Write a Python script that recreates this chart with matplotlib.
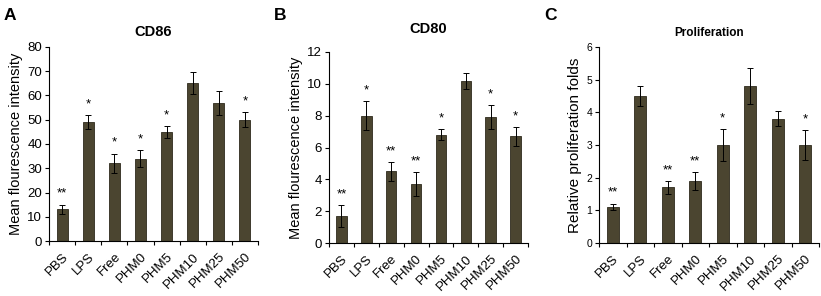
import matplotlib
matplotlib.use("Agg")
import matplotlib.pyplot as plt
import numpy as np

plt.rcParams["font.family"] = ["Liberation Sans", "DejaVu Sans"]

groups = ["PBS", "LPS", "Free", "PHM0", "PHM5", "PHM10", "PHM25", "PHM50"]

cd86 = [13, 49, 32, 34, 45, 65, 57, 50]
cd86_err = [2, 3, 4, 3.5, 2.5, 4.5, 5, 3]
cd86_sig = ["**", "*", "*", "*", "*", "", "", "*"]

cd80 = [1.7, 8.0, 4.5, 3.7, 6.8, 10.2, 7.9, 6.7]
cd80_err = [0.7, 0.9, 0.6, 0.75, 0.35, 0.5, 0.75, 0.6]
cd80_sig = ["**", "*", "**", "**", "*", "", "*", "*"]

prolif = [1.1, 4.5, 1.7, 1.9, 3.0, 4.8, 3.8, 3.0]
prolif_err = [0.1, 0.3, 0.2, 0.27, 0.48, 0.55, 0.23, 0.45]
prolif_sig = ["**", "", "**", "**", "*", "", "", "*"]

BAR = "#4b4530"
W, H = 821, 296

fig = plt.figure(figsize=(W / 100, H / 100), dpi=100)


def px_axes(left, top, right, bottom):
    return fig.add_axes([left / W, 1 - bottom / H, (right - left) / W, (bottom - top) / H])


def panel(ax, vals, errs, sig, ymax, step, ylabel, ylsize, title, title_size, letter, lx, ty):
    x = np.arange(len(groups))
    ax.bar(x, vals, width=0.42, color=BAR, edgecolor="#2e2a1c", linewidth=0.6,
           yerr=errs, error_kw=dict(ecolor="black", elinewidth=0.7, capsize=2, capthick=0.7))
    ax.set_xlim(-0.5, len(groups) - 0.5)
    ax.set_ylim(0, ymax)
    ax.set_yticks(np.arange(0, ymax + step / 2, step))
    ax.set_xticks(np.arange(len(groups) + 1) - 0.5)
    ax.set_xticklabels([])
    ax.set_xticks(x, minor=True)
    ax.set_xticklabels(groups, minor=True, rotation=45, ha="right", rotation_mode="anchor", fontsize=9.5)
    ax.tick_params(axis="x", which="minor", length=0, pad=7)
    ax.tick_params(axis="x", which="major", length=3, width=0.8)
    ax.tick_params(axis="y", length=3, width=0.8, labelsize=9.5, pad=2)
    for s in ("top", "right"):
        ax.spines[s].set_visible(False)
    for s in ("left", "bottom"):
        ax.spines[s].set_linewidth(0.8)
    ax.set_ylabel(ylabel, fontsize=ylsize, labelpad=3)
    off = ymax * 0.025
    for xi, v, e, s in zip(x, vals, errs, sig):
        if s:
            ax.text(xi, v + e + off, s, ha="center", va="bottom", fontsize=9.5)
    ax.set_title(title, fontsize=title_size, fontweight="bold", pad=ty)
    fig.text(lx / W, 1 - 15 / H, letter, fontsize=12.5, fontweight="bold", va="center")


axA = px_axes(49, 47, 258, 241)
panel(axA, cd86, cd86_err, cd86_sig, 80, 10, "Mean flourescence intensity", 10.5, "CD86", 10.5, "A", 4, 8)

axB = px_axes(329, 52, 528, 243)
panel(axB, cd80, cd80_err, cd80_sig, 12, 2, "Mean flourescence intensity", 10.5, "CD80", 10.5, "B", 274, 14)

axC = px_axes(599, 47, 819, 243)
panel(axC, prolif, prolif_err, prolif_sig, 6, 1, "Relative proliferation folds", 11, "Proliferation", 8.5, "C", 544, 8)
axC.tick_params(axis="y", labelsize=7.5)

fig.savefig("out.png", dpi=100)
